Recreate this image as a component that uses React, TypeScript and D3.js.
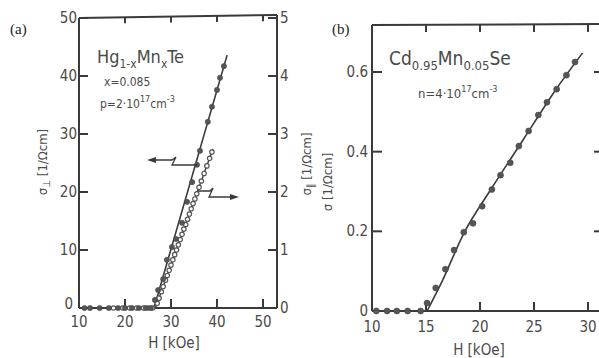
import React from "react";
import * as d3 from "d3";

// ---------- Panel (a) data: Hg1-xMnxTe ----------
const aXTicks = [10, 20, 30, 40, 50];
const aYTicks = [0, 10, 20, 30, 40, 50];
const aY2Ticks = [0, 1, 2, 3, 4, 5];
const aTopTicks = [20, 30, 40, 50];

// sigma-perp (filled, left axis)
const aFilledH = [11.2, 12.4, 14.5, 16.5, 18.5, 20.0, 21.5, 23.0, 24.5, 25.6, 26.5, 27.2, 28.3, 29.1, 30.2, 31.1, 32.4, 33.5, 34.6, 35.65, 36.3, 38.0, 38.9, 40.0, 40.65, 41.5];
const aFilledS = [0, 0, 0, 0, 0, 0, 0, 0, 0, 0, 1.4, 3.1, 5.0, 8.3, 10.5, 11.9, 14.7, 18.3, 21.7, 24.7, 27.1, 32.1, 34.7, 37.6, 39.7, 41.7];
// sigma-parallel (open, right axis)
const aOpenH = [17.5, 19.5, 21.0, 22.5, 24.0, 25.0, 26.0, 27.0, 27.4, 27.9, 28.3, 28.8, 29.2, 29.6, 30.0, 30.4, 30.8, 31.2, 31.6, 32.0, 32.4, 32.8, 33.2, 33.6, 34.0, 34.4, 34.8, 35.2, 35.6, 36.1, 36.6, 37.2, 37.8, 38.4, 38.9];
const aOpenS = [0, 0, 0, 0, 0, 0, 0, 0.08, 0.17, 0.28, 0.37, 0.48, 0.56, 0.65, 0.74, 0.83, 0.92, 1.0, 1.09, 1.18, 1.27, 1.36, 1.44, 1.53, 1.62, 1.71, 1.8, 1.88, 1.97, 2.08, 2.19, 2.32, 2.45, 2.58, 2.69];
// fitted lines
const aFilledLineH = [10, 26.3, 42.2];
const aFilledLineS = [0, 0, 43.6];
const aOpenLineH = [26.6, 39.1];
const aOpenLineS = [0, 2.74];

// ---------- Panel (b) data: Cd0.95Mn0.05Se ----------
const bXTicks = [10, 15, 20, 25, 30];
const bYTicks = [0, 0.2, 0.4, 0.6];
const bYLabels = ["0", "0.2", "0.4", "0.6"];
const bTopTicks = [15, 20, 25, 30];
const bH = [10.4, 11.4, 12.3, 13.3, 14.5, 15.1, 15.9, 16.8, 17.6, 18.5, 19.35, 20.2, 21.1, 21.9, 22.8, 23.6, 24.5, 25.4, 26.2, 27.1, 28.0, 28.8];
const bS = [0, 0, 0, 0, 0, 0.02, 0.058, 0.105, 0.153, 0.198, 0.22, 0.263, 0.305, 0.341, 0.372, 0.414, 0.452, 0.492, 0.524, 0.557, 0.592, 0.625];
const bLineH = [15.1, 16.5, 18.5, 21, 24, 27, 29.5];
const bLineS = [0, 0.075, 0.195, 0.305, 0.43, 0.555, 0.648];

const INK = "#3a3a3a";
const TXT = "#4a4a4a";
const FONT = "'DejaVu Sans Condensed', 'DejaVu Sans', sans-serif";

export default function App() {
  // panel a scales
  const xA = d3.scaleLinear().domain([10, 50]).range([79, 263]);
  const yA = d3.scaleLinear().domain([0, 50]).range([308, 18]);
  const yA2 = d3.scaleLinear().domain([0, 5]).range([308, 18]);
  const aLeft = xA(10), aRight = 277, aTop = yA(50), aBottom = yA(0);

  // panel b scales
  const xB = d3.scaleLinear().domain([10, 30]).range([372, 588]);
  const yB = d3.scaleLinear().domain([0, 0.6]).range([311, 72]);
  const bLeft = xB(10), bRight = 600, bTop = 25, bBottom = yB(0);

  const lineA = d3.line<number>().x((_, i) => xA(aFilledLineH[i])).y((d) => yA(d));
  const lineA2 = d3.line<number>().x((_, i) => xA(aOpenLineH[i])).y((d) => yA2(d));
  const lineB = d3
    .line<number>()
    .x((_, i) => xB(bLineH[i]))
    .y((d) => yB(d))
    .curve(d3.curveMonotoneX);

  return (
    <svg
      width={599}
      height={358}
      style={{ position: "absolute", left: 0, top: 0, background: "#fff" }}
      fontFamily={FONT}
    >
      <rect width={599} height={358} fill="#fff" />
      {/* ===== Panel (a) ===== */}
      <text x={10} y={34} fontFamily="'Liberation Serif', serif" fontSize={15} fill="#222">(a)</text>
      <g stroke={INK} strokeWidth={2} fill="none">
        <line x1={aLeft} y1={aTop} x2={aLeft} y2={aBottom} />
        <line x1={aLeft} y1={aBottom} x2={aRight} y2={aBottom} />
        <line x1={aRight} y1={aTop - 3} x2={aRight} y2={aBottom} />
        <line x1={aLeft} y1={aTop} x2={aRight} y2={aTop - 3} />
        {aYTicks.map((t) => (
          <line key={"ay" + t} x1={aLeft} x2={aLeft + 9} y1={yA(t)} y2={yA(t)} />
        ))}
        {aY2Ticks.map((t) => (
          <line key={"ay2" + t} x1={aRight - 9} x2={aRight} y1={yA2(t)} y2={yA2(t)} />
        ))}
        {aXTicks.map((t) => (
          <line key={"ax" + t} x1={xA(t)} x2={xA(t)} y1={aBottom} y2={aBottom - 9} />
        ))}
        {aTopTicks.map((t) => (
          <line key={"at" + t} x1={xA(t)} x2={xA(t)} y1={aTop - (xA(t) - aLeft) / 66} y2={aTop - (xA(t) - aLeft) / 66 + 6} />
        ))}
      </g>
      <g fill={TXT} fontSize={15}>
        {aYTicks.map((t) => (
          <text key={"ayl" + t} x={t === 0 ? aLeft - 6 : aLeft - 2} y={yA(t) + (t === 0 ? 1 : 5)} textAnchor="end">{t}</text>
        ))}
        {aY2Ticks.map((t) => (
          <text key={"ay2l" + t} x={aRight + 3} y={yA2(t) + 5} textAnchor="start">{t}</text>
        ))}
        {aXTicks.map((t) => (
          <text key={"axl" + t} x={xA(t)} y={327} textAnchor="middle">{t}</text>
        ))}
        <text x={174} y={348} textAnchor="middle">H [kOe]</text>
      </g>
      <g fill={TXT} fontSize={13}>
        <text transform="translate(47,162) rotate(-90)" textAnchor="middle">
          σ<tspan fontSize={10} dy={3}>⊥</tspan><tspan dy={-3}> [1/Ωcm]</tspan>
        </text>
        <text transform="translate(311,164) rotate(-90)" textAnchor="middle">
          σ<tspan fontSize={10} dy={3}>∥</tspan><tspan dy={-3}> [1/Ωcm]</tspan>
        </text>
      </g>
      {/* annotations a */}
      <g fill={TXT}>
        <text x={97} y={63} fontSize={18}>
          Hg<tspan fontSize={12} dy={5}>1-x</tspan><tspan dy={-5}>Mn</tspan><tspan fontSize={12} dy={5}>x</tspan><tspan dy={-5}>Te</tspan>
        </text>
        <text x={104} y={86} fontSize={12}>x=0.085</text>
        <text x={100} y={108} fontSize={12}>
          p=2·10<tspan fontSize={9} dy={-6}>17</tspan><tspan dy={6}>cm</tspan><tspan fontSize={9} dy={-6}>-3</tspan>
        </text>
      </g>
      {/* lines a */}
      <path d={lineA(aFilledLineS) || ""} fill="none" stroke={INK} strokeWidth={1.6} />
      <path d={lineA2(aOpenLineS) || ""} fill="none" stroke={INK} strokeWidth={1.4} />
      {/* points a */}
      {aOpenH.map((h, i) => (
        <circle key={"ao" + i} cx={xA(h)} cy={yA2(aOpenS[i])} r={2.2} fill="#fff" stroke="#555" strokeWidth={1.2} />
      ))}
      {aFilledH.map((h, i) => (
        <circle key={"af" + i} cx={xA(h)} cy={yA(aFilledS[i])} r={2.6} fill="#555" stroke="#444" strokeWidth={0.6} />
      ))}
      {/* arrows a */}
      <g stroke={INK} strokeWidth={1.3} fill="none">
        <path d="M150,160 H172 L176,157 L172,165 H197" />
        <path d="M197,191 H210 L213,188 L209,197 H232" />
      </g>
      <path d="M147,160 L156,157 L156,163 Z" fill={INK} />
      <path d="M239,197 L230,194 L230,200 Z" fill={INK} />

      {/* ===== Panel (b) ===== */}
      <text x={332} y={34} fontFamily="'Liberation Serif', serif" fontSize={15} fill="#222">(b)</text>
      <g stroke={INK} strokeWidth={2} fill="none">
        <line x1={bLeft} y1={bTop} x2={bLeft} y2={bBottom} />
        <line x1={bLeft} y1={bBottom} x2={bRight} y2={bBottom} />
        <line x1={bLeft} y1={bTop} x2={bRight} y2={bTop - 1} />
        {bYTicks.map((t) => (
          <line key={"by" + t} x1={bLeft} x2={bLeft + 10} y1={yB(t)} y2={yB(t)} />
        ))}
        {bYTicks.slice(1).map((t) => (
          <line key={"byr" + t} x1={594} x2={600} y1={yB(t)} y2={yB(t)} />
        ))}
        {bXTicks.map((t) => (
          <line key={"bx" + t} x1={xB(t)} x2={xB(t)} y1={bBottom} y2={bBottom - 9} />
        ))}
        {bTopTicks.map((t) => (
          <line key={"bt" + t} x1={xB(t)} x2={xB(t)} y1={bTop} y2={bTop + 7} />
        ))}
      </g>
      <g fill={TXT} fontSize={15}>
        {bYTicks.map((t, i) => (
          <text key={"byl" + t} x={bLeft - 4} y={yB(t) + 5} textAnchor="end">{bYLabels[i]}</text>
        ))}
        {bXTicks.map((t) => (
          <text key={"bxl" + t} x={xB(t)} y={332} textAnchor="middle">{t}</text>
        ))}
        <text x={479} y={355} textAnchor="middle">H [kOe]</text>
      </g>
      <text transform="translate(332,182) rotate(-90)" textAnchor="middle" fill={TXT} fontSize={13}>
        σ  [1/Ωcm]
      </text>
      <g fill={TXT}>
        <text x={389} y={65} fontSize={19}>
          Cd<tspan fontSize={13} dy={5}>0.95</tspan><tspan dy={-5}>Mn</tspan><tspan fontSize={13} dy={5}>0.05</tspan><tspan dy={-5}>Se</tspan>
        </text>
        <text x={418} y={98} fontSize={13}>
          n=4·10<tspan fontSize={9} dy={-6}>17</tspan><tspan dy={6}>cm</tspan><tspan fontSize={9} dy={-6}>-3</tspan>
        </text>
      </g>
      <path d={lineB(bLineS) || ""} fill="none" stroke={INK} strokeWidth={1.6} />
      {bH.map((h, i) => (
        <circle key={"b" + i} cx={xB(h)} cy={yB(bS[i])} r={3} fill="#555" stroke="#444" strokeWidth={0.6} />
      ))}
    </svg>
  );
}
